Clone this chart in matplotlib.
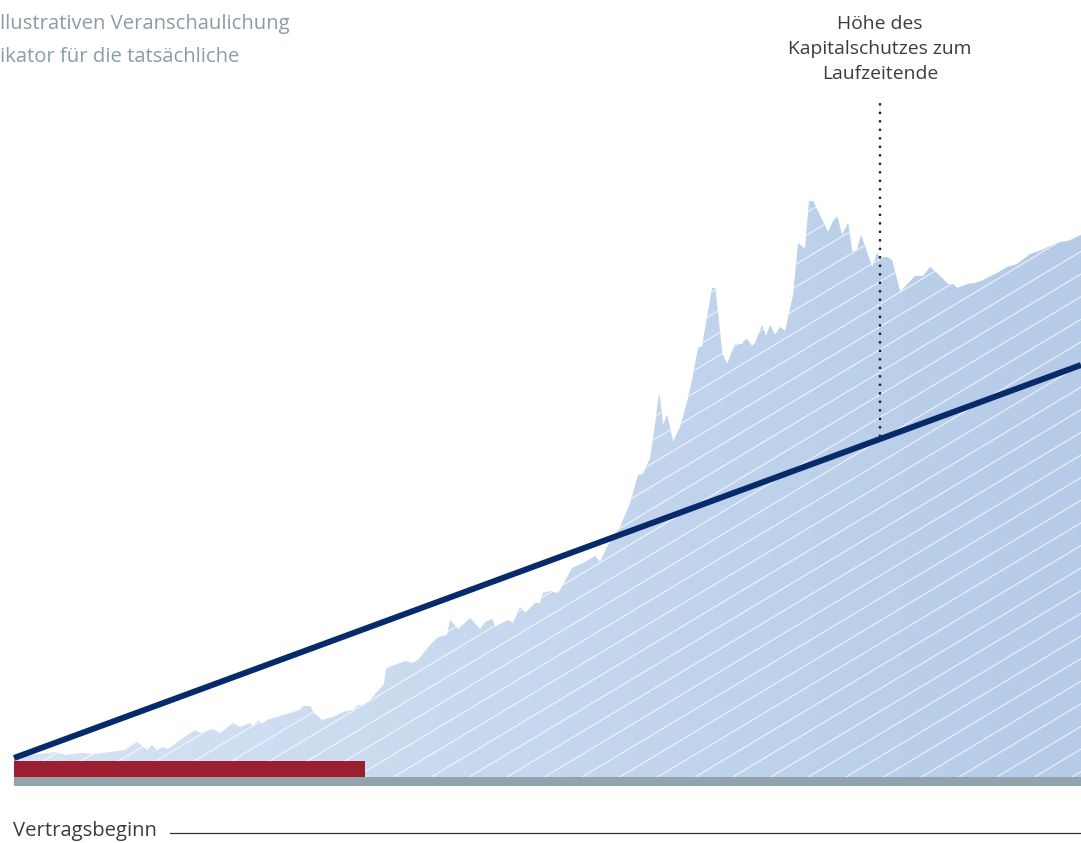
import numpy as np
import matplotlib
matplotlib.use("Agg")
import matplotlib.pyplot as plt
from matplotlib.collections import LineCollection

plt.rcParams['font.family'] = ['Open Sans', 'DejaVu Sans']

# ---- data (time since contract start, value above baseline) ----
fund_t = [0, 11, 26, 41, 51, 66, 81, 96, 111, 123,
          133, 138, 143, 149, 154, 169, 181, 186, 199, 206,
          219, 226, 236, 239, 244, 248, 253, 269, 286, 289,
          296, 299, 308, 319, 329, 339, 344, 349, 356, 363,
          370, 372, 386, 391, 398, 404, 416, 424, 433, 436,
          444, 456, 466, 471, 478, 481, 486, 494, 499, 506,
          511, 521, 526, 529, 536, 544, 549, 558, 571, 581,
          586, 593, 606, 616, 624, 629, 636, 641, 645, 649,
          653, 659, 666, 673, 678, 684, 688, 698, 701, 708,
          713, 721, 728, 732, 738, 741, 748, 752, 756, 761,
          766, 771, 779, 784, 791, 795, 799, 814, 819, 823,
          828, 834, 838, 843, 847, 858, 863, 866, 873, 878,
          886, 901, 909, 916, 923, 934, 939, 943, 953, 961,
          969, 983, 993, 1003, 1016, 1028, 1036, 1046, 1054, 1067]
fund_v = [20, 22, 23, 25, 22, 24, 23, 25, 27, 35,
          27, 32, 27, 30, 28, 39, 47, 44, 48, 44,
          54, 50, 54, 50, 57, 53, 57, 62, 67, 71,
          71, 65, 57, 60, 65, 67, 72, 72, 77, 85,
          93, 109, 114, 116, 114, 117, 132, 140, 142, 157,
          148, 159, 148, 155, 158, 150, 153, 157, 154, 170,
          164, 174, 174, 184, 186, 184, 192, 209, 215, 221,
          215, 230, 250, 274, 302, 303, 319, 352, 384, 352,
          362, 335, 350, 375, 397, 429, 431, 489, 489, 424,
          413, 433, 433, 439, 431, 434, 452, 441, 452, 442,
          450, 446, 482, 534, 528, 576, 576, 545, 556, 561,
          542, 554, 525, 527, 542, 510, 524, 520, 520, 517,
          485, 501, 501, 510, 504, 493, 493, 489, 493, 494,
          497, 504, 510, 513, 523, 527, 531, 535, 536, 542]

guarantee_t = [0, 1067]
guarantee_v = [19, 412]

marker_t = 866
marker_range = [340, 680]

red_bar_end = 351
red_bar_height = 16
base_bar_height = 9

annotation = "Höhe des\nKapitalschutzes zum\nLaufzeitende"
intro_lines = ["llustrativen Veranschaulichung", "ikator für die tatsächliche"]
start_label = "Vertragsbeginn"

assert len(fund_t) == len(fund_v)

# ---- figure ----
W, H = 1081, 843
fig = plt.figure(figsize=(W / 100, H / 100), dpi=100)
ax = fig.add_axes([0, 0, 1, 1])
ax.set_xlim(-14, 1067)
ax.set_ylim(-66, 777)
ax.axis('off')

t = np.array(fund_t, float)
v = np.array(fund_v, float)

# area with gradient
poly = ax.fill_between(t, 0, v, color='#d3e1f3', lw=0, zorder=1)
clip_path = poly.get_paths()[0]
grad = np.linspace(0, 1, 256).reshape(1, -1)
c0 = np.array([214, 227, 244]) / 255
c1 = np.array([181, 203, 232]) / 255
img = c0[None, None, :] * (1 - grad[..., None]) + c1[None, None, :] * grad[..., None]
im = ax.imshow(img, extent=[0, 1067, 0, 600], aspect='auto', zorder=2,
               interpolation='bilinear')
im.set_clip_path(clip_path, transform=ax.transData)

# diagonal white hatch lines
slope = 0.6
spacing = 37.7
x0 = 794.3
ks = np.arange(-40, 10)
segs = []
for k in ks:
    xs = x0 + k * spacing
    segs.append([(xs, 0), (xs + 700 / slope, 700)])
lc = LineCollection(segs, colors='white', linewidths=0.8, alpha=0.75, zorder=3)
ax.add_collection(lc)
lc.set_clip_path(clip_path, transform=ax.transData)

# base bar and red bar
ax.bar(0, -base_bar_height, width=1067, align='edge', bottom=0,
       color='#93a3ae', lw=0, zorder=4)
ax.bar(0, red_bar_height, width=red_bar_end, align='edge', bottom=0,
       color='#9b1f30', lw=0, zorder=5)

# guarantee line
ax.plot(guarantee_t, guarantee_v, color='#072a6a', lw=4.3,
        solid_capstyle='butt', zorder=6)

# dotted marker
ax.plot([marker_t, marker_t], marker_range, color='#222222', lw=1.7,
        linestyle=(0, (1, 2.6)), dash_capstyle='butt', zorder=6)

# texts
ax.text(marker_t, 728, annotation, ha='center', va='center', fontsize=13.9,
        color='#3c3c3c', linespacing=1.52)
ax.text(-14, 753, intro_lines[0], ha='left', va='center', fontsize=14.6,
        color='#8b9ca7')
ax.text(-14, 720, intro_lines[1], ha='left', va='center', fontsize=14.6,
        color='#8b9ca7')
ax.text(-1, -54, start_label, ha='left', va='center', fontsize=14.6,
        color='#3c3c3c')
ax.plot([156, 1067], [-56, -56], color='#333333', lw=0.9, zorder=6)

fig.savefig('out.png', dpi=100)
